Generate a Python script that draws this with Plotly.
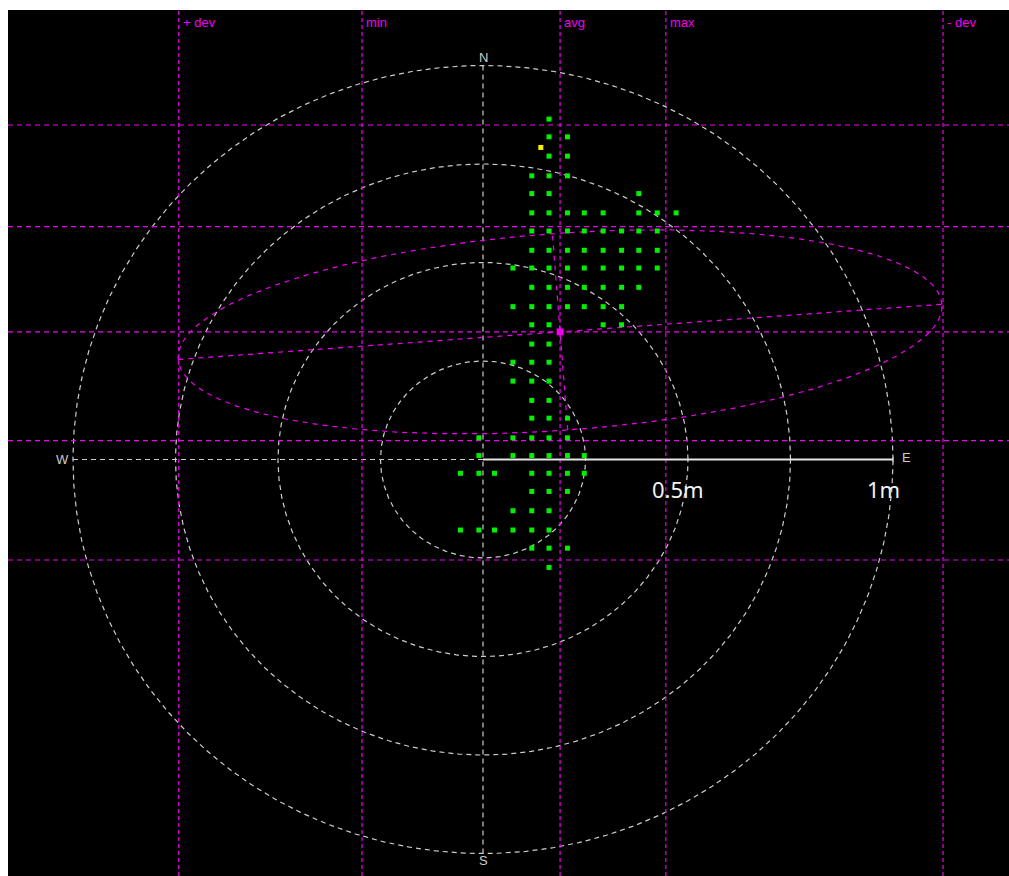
import numpy as np
import plotly.graph_objects as go

# ---- position-fix data (metres east / north of the reference mark) ----
ring_radii = [0.25, 0.5, 0.75, 1.0]

east_cols = [-0.055, -0.010, 0.028, 0.073, 0.119, 0.161, 0.206,
             0.247, 0.293, 0.338, 0.380, 0.425, 0.471]
north_rows = [0.864, 0.819, 0.770, 0.720, 0.675, 0.626, 0.580, 0.531,
              0.486, 0.437, 0.388, 0.342, 0.293, 0.247, 0.199, 0.150,
              0.105, 0.055, 0.010, -0.035, -0.081, -0.130, -0.179,
              -0.225, -0.274]
# column indices (into east_cols) occupied in each row of north_rows
row_fixes = [
    [5], [5, 6], [5, 6], [4, 5, 6], [4, 5, 10],
    [4, 5, 6, 7, 8, 10, 11, 12],
    [4, 5, 6, 7, 8, 9, 10, 11],
    [4, 5, 6, 7, 8, 9, 10, 11],
    [3, 4, 5, 6, 7, 8, 9, 10, 11],
    [4, 5, 6, 7, 8, 9, 10],
    [3, 4, 5, 6, 7, 8, 9],
    [4, 5, 8, 9],
    [4, 5], [3, 4, 5], [3, 4, 5], [4, 5], [4, 5, 6],
    [1, 3, 4, 5, 6],
    [1, 3, 4, 5, 6, 7],
    [0, 1, 2, 4, 5, 6, 7],
    [4, 5, 6], [3, 4, 5], [0, 1, 2, 3, 4, 5], [4, 5, 6], [5],
]

latest_east, latest_north = 0.141, 0.792
avg_east, avg_north = 0.188, 0.324

east_marks = ["+ dev", "min", "avg", "max", "- dev"]
east_values = [-0.742, -0.295, 0.188, 0.446, 1.122]
north_values = [0.849, 0.591, 0.324, 0.048, -0.255]

ell_semi_major = 0.934
ell_semi_minor = 0.25
ell_angle_deg = 4.3

scale_labels = ["0.5m", "1m"]
scale_values = [0.5, 1.0]

compass_labels = ["N", "S", "W", "E"]
compass_east = [0.0, 0.0, -1.026, 1.034]
compass_north = [1.02, -1.019, 0.0, 0.004]

# ---- styling ----
GRAY = "#cdcdcd"
MAGENTA = "#f000f0"
GREEN = "#00f000"
X_RANGE = [-1.1585, 1.2829]
Y_RANGE = [-1.0571, 1.1409]

fig = go.Figure()


def add_line(xs, ys, color, dash, width=1.0):
    fig.add_trace(go.Scatter(
        x=xs, y=ys, mode="lines", hoverinfo="skip",
        line=dict(color=color, width=width, dash=dash),
    ))


# range rings
theta = np.linspace(0, 2 * np.pi, 721)
for r in ring_radii:
    add_line(r * np.cos(theta), r * np.sin(theta), GRAY, "5px,4px", 1.2)

# N-S axis and west half of E-W axis
add_line([0, 0], [-max(ring_radii), max(ring_radii)], GRAY, "5px,4px", 1.2)
add_line([-max(ring_radii), 0], [0, 0], GRAY, "5px,4px", 1.2)

# statistic lines
for xv in east_values:
    add_line([xv, xv], Y_RANGE, MAGENTA, "4px,3px", 1.2)
for yv in north_values:
    add_line(X_RANGE, [yv, yv], MAGENTA, "5px,4px", 1.2)

# deviation ellipse with its axes
phi = np.deg2rad(ell_angle_deg)
ex = ell_semi_major * np.cos(theta)
ey = ell_semi_minor * np.sin(theta)
add_line(avg_east + ex * np.cos(phi) - ey * np.sin(phi),
         avg_north + ex * np.sin(phi) + ey * np.cos(phi), MAGENTA, "5px,5px", 1.2)
add_line([avg_east - ell_semi_major * np.cos(phi), avg_east + ell_semi_major * np.cos(phi)],
         [avg_north - ell_semi_major * np.sin(phi), avg_north + ell_semi_major * np.sin(phi)],
         MAGENTA, "5px,5px", 1.2)
add_line([avg_east + ell_semi_minor * np.sin(phi), avg_east - ell_semi_minor * np.sin(phi)],
         [avg_north - ell_semi_minor * np.cos(phi), avg_north + ell_semi_minor * np.cos(phi)],
         MAGENTA, "5px,5px", 1.2)

# scale bar
add_line([0, scale_values[-1]], [0, 0], "#e4e4e4", "solid", width=2)
add_line([scale_values[-1], scale_values[-1]], [-0.006, 0.006], "#e4e4e4", "solid", width=1)

# position fixes
fix_e = [east_cols[c] for row in row_fixes for c in row]
fix_n = [north_rows[i] for i, row in enumerate(row_fixes) for _ in row]
fig.add_trace(go.Scatter(
    x=fix_e, y=fix_n, mode="markers",
    marker=dict(symbol="square", size=5, color=GREEN, line=dict(width=0)),
))
fig.add_trace(go.Scatter(
    x=[latest_east], y=[latest_north], mode="markers",
    marker=dict(symbol="square", size=5, color="#ffee00", line=dict(width=0)),
))
fig.add_trace(go.Scatter(
    x=[avg_east], y=[avg_north], mode="markers",
    marker=dict(symbol="square", size=7, color=MAGENTA, line=dict(width=0)),
))

annotations = []
for lab, xv in zip(east_marks, east_values):
    annotations.append(dict(
        x=xv, y=1.110, text=lab, showarrow=False, xanchor="left", yanchor="middle",
        xshift=2, font=dict(family="Liberation Sans", size=13, color=MAGENTA),
    ))
for lab, xv, yv in zip(compass_labels, compass_east, compass_north):
    annotations.append(dict(
        x=xv, y=yv, text=lab, showarrow=False, xanchor="center", yanchor="middle",
        font=dict(family="Liberation Sans", size=13, color=GRAY),
    ))
for lab, xv in zip(scale_labels, scale_values):
    annotations.append(dict(
        x=xv, y=-0.075, text=lab, showarrow=False, xanchor="center", yanchor="middle",
        xshift=-10, font=dict(family="Noto Sans", size=22, color="#f2f2f2"),
    ))

axis_style = dict(visible=False, showgrid=False, zeroline=False, fixedrange=True)
fig.update_layout(
    width=1009, height=876,
    margin=dict(l=8, r=0, t=10, b=0, pad=0),
    paper_bgcolor="white", plot_bgcolor="black",
    showlegend=False,
    xaxis=dict(range=X_RANGE, **axis_style),
    yaxis=dict(range=Y_RANGE, **axis_style),
    annotations=annotations,
)

fig.write_html("out.html")
